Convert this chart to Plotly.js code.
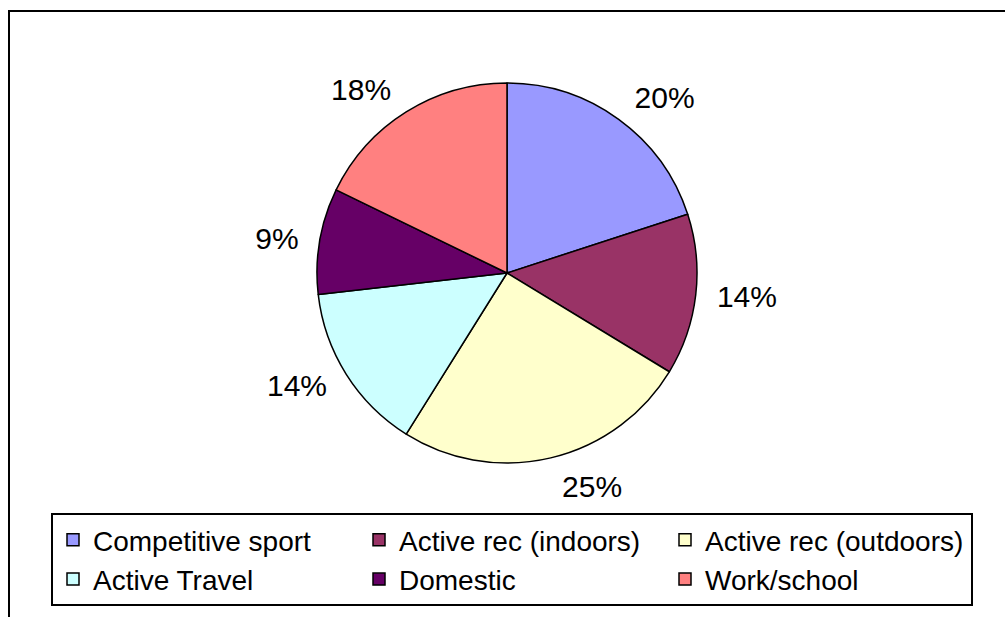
<!DOCTYPE html>
<html>
<head>
<meta charset="utf-8">
<script src="https://cdn.plot.ly/plotly-3.0.1.min.js"></script>
<style>
  html, body { margin: 0; padding: 0; background: #ffffff; }
  #wrap { position: relative; width: 1005px; height: 617px; overflow: hidden; }
  #chart { position: absolute; left: 0; top: 0; width: 1005px; height: 617px; }
  #frame { position: absolute; left: 8px; top: 10px; width: 1100px; height: 700px;
           border: 2px solid #000; pointer-events: none; box-sizing: border-box; }
</style>
</head>
<body>
<div id="wrap">
  <div id="chart"></div>
  <div id="frame"></div>
</div>
<script>
const categories = ["Competitive sport", "Active rec (indoors)", "Active rec (outdoors)",
                    "Active Travel", "Domestic", "Work/school"];
const shares = [20, 13.7, 25.2, 14.3, 9.0, 17.8];
const colors = ["#9999FF", "#993366", "#FFFFCC", "#CCFFFF", "#660066", "#FF8080"];

const W = 1005, H = 617;
const cx = 507, cy = 273, R = 190, RL = 203;
const FONT = "Arial, 'Liberation Sans', sans-serif";

function dom(r) {
  return { x: [(cx - r) / W, (cx + r) / W], y: [1 - (cy + r) / H, 1 - (cy - r) / H] };
}

// visible pie
const pie = {
  type: "pie",
  labels: categories,
  values: shares,
  sort: false,
  direction: "clockwise",
  rotation: 0,
  marker: { colors: colors, line: { color: "#000000", width: 1.5 } },
  textinfo: "none",
  hoverinfo: "label+percent",
  domain: dom(R),
  automargin: false
};

// transparent copy of the same data, slightly larger, that carries the percentage labels
const labelRing = {
  type: "pie",
  labels: categories,
  values: shares,
  sort: false,
  direction: "clockwise",
  rotation: 0,
  showlegend: false,
  marker: { colors: categories.map(() => "rgba(0,0,0,0)"), line: { width: 0 } },
  texttemplate: "%{percent:.0%}",
  textposition: "outside",
  outsidetextfont: { family: FONT, size: 30, color: "#000" },
  hoverinfo: "skip",
  domain: dom(RL),
  automargin: false
};

const layout = {
  width: W, height: H,
  margin: { l: 0, r: 0, t: 0, b: 0, autoexpand: false },
  paper_bgcolor: "#ffffff",
  font: { family: FONT, size: 28, color: "#000" },
  showlegend: true,
  legend: {
    orientation: "h",
    x: 51 / W, xanchor: "left",
    y: 1 - 513 / H, yanchor: "top",
    bordercolor: "#000", borderwidth: 2,
    bgcolor: "#ffffff",
    entrywidth: 261, entrywidthmode: "pixels",
    traceorder: "normal",
    font: { family: FONT, size: 28, color: "#000" }
  }
};

Plotly.newPlot("chart", [pie, labelRing], layout, { staticPlot: true, displayModeBar: false });
</script>
</body>
</html>
